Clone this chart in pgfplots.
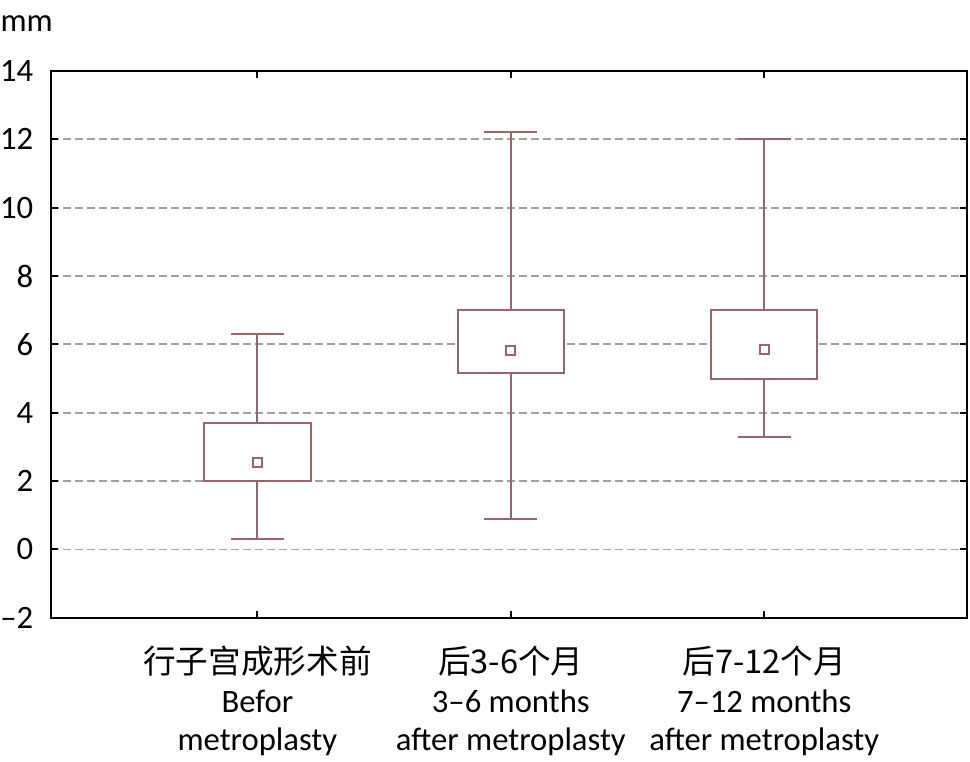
\documentclass[border=0pt]{standalone}
\usepackage{fontspec}
\setmainfont{Carlito}
\newfontfamily\cjk{Noto Sans CJK SC}
\usepackage{pgfplots}
\pgfplotsset{compat=1.18}
\usepgfplotslibrary{statistics}
\definecolor{boxc}{RGB}{155,102,106}
\definecolor{gridc}{RGB}{160,160,160}

\begin{document}
\begin{tikzpicture}
\begin{axis}[
    scale only axis,
    width=687pt, height=410.25pt,
    xmin=0.187, xmax=3.80,
    ymin=-2, ymax=14,
    xtick={1,2,3},
    xticklabels={
        {{\cjk 行子宫成形术前}\\Befor\\metroplasty},
        {{\cjk 后3-6个月}\\3–6 months\\after metroplasty},
        {{\cjk 后7-12个月}\\7–12 months\\after metroplasty}},
    ytick={-2,0,2,4,6,8,10,12,14},
    yticklabels={–2,0,2,4,6,8,10,12,14},
    tick align=inside,
    major tick length=5pt,
    every tick/.style={black, line width=1.6pt},
    axis line style={line width=1.6pt},
    tick label style={font=\fontsize{24.5}{29}\selectfont},
    xticklabel style={align=center, inner sep=0pt, yshift=-21pt},
    yticklabel style={inner sep=0pt, xshift=-13.5pt},
    ymajorgrids,
    grid style={gridc, line width=1.3pt, dash pattern=on 6pt off 3pt},
    boxplot/draw direction=y,
    boxplot/box extend=0.42,
    boxplot/whisker extend=0.21,
    boxplot/draw/median/.code={},
]
\addplot[boxc, line width=1.5pt, fill=white, boxplot prepared={
    draw position=1, lower whisker=0.3, lower quartile=2.0,
    median=2.55, upper quartile=3.7, upper whisker=6.3}] coordinates {};
\addplot[boxc, line width=1.5pt, fill=white, boxplot prepared={
    draw position=2, lower whisker=0.9, lower quartile=5.15,
    median=5.81, upper quartile=7.0, upper whisker=12.2}] coordinates {};
\addplot[boxc, line width=1.5pt, fill=white, boxplot prepared={
    draw position=3, lower whisker=3.3, lower quartile=5.0,
    median=5.85, upper quartile=7.0, upper whisker=12.0}] coordinates {};
% means
\addplot[only marks, mark=square*, mark size=3.3pt,
    mark options={draw=boxc, fill=white, line width=1.5pt}]
    coordinates {(1,2.55) (2,5.81) (3,5.85)};
\end{axis}
\node[anchor=base west, inner sep=0pt, font=\fontsize{24.5}{29}\selectfont]
    at (-38.25pt,439.5pt) {mm};
\path (-38.25pt,-108pt) rectangle (689.25pt,463.5pt);
\end{tikzpicture}
\end{document}
